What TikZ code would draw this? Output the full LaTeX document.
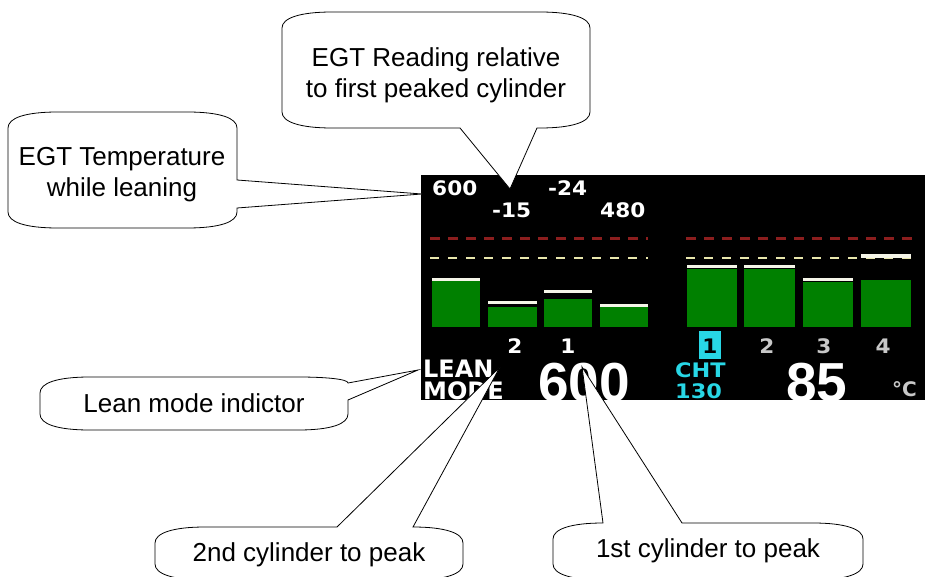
\documentclass[tikz,border=0pt]{standalone}
\usepackage{fontspec}
\setmainfont{Liberation Sans}
\newfontfamily\lcdfont{DejaVu Sans}
\newfontfamily\bigfont{Liberation Sans}
\definecolor{barg}{RGB}{0,128,0}
\definecolor{redd}{RGB}{140,30,30}
\definecolor{yeld}{RGB}{232,230,172}
\definecolor{cyanlcd}{RGB}{40,215,230}
\definecolor{graylcd}{RGB}{200,200,200}
\definecolor{capw}{RGB}{245,245,232}
\newcommand\lcdbar[4]{%
  \fill[barg] (#1,#4) rectangle (#2,327);
  \fill[capw] (#1,#3) rectangle (#2,#3+3);}
\begin{document}
\begin{tikzpicture}[x=1pt,y=-1pt,
  callout/.style={fill=white,draw=black,line width=0.8pt,line join=miter},
  ctext/.style={font=\fontsize{26}{31}\selectfont,align=center,inner sep=0pt},
  lcdsmall/.style={font=\lcdfont\bfseries\fontsize{20}{20}\selectfont,text=white,inner sep=0pt,xscale=1.08},
  lcdnum/.style={lcdsmall,text=graylcd},
  lcdbig/.style={font=\bigfont\bfseries\fontsize{55}{55}\selectfont,text=white,inner sep=0pt},
  lcdcyan/.style={font=\lcdfont\bfseries\fontsize{20}{20}\selectfont,text=cyanlcd,inner sep=0pt,xscale=1.12},
  lcdlean/.style={font=\lcdfont\bfseries\fontsize{24}{24}\selectfont,text=white,inner sep=0pt},
  reddash/.style={redd,line width=3pt,dash pattern=on 10pt off 8pt},
  yeldash/.style={yeld,line width=2.5pt,dash pattern=on 9pt off 9pt}]
\useasboundingbox (0,0) rectangle (925,577);
\fill[white] (0,0) rectangle (925,577);

% ---------- display ----------
\fill[black] (421,175) rectangle (925,400);
\begin{scope}
\clip (421,175) rectangle (925,400);
\draw[reddash] (430,238) -- (648,238);
\draw[reddash] (686,238) -- (914,238);
\draw[yeldash] (430,258) -- (648,258);
\draw[yeldash] (686,258) -- (914,258);
\lcdbar{432}{480}{278}{281}
\lcdbar{488}{537}{301}{307}
\lcdbar{544}{592}{290}{299}
\lcdbar{600}{648}{304}{307}
\lcdbar{687}{737}{265}{269}
\lcdbar{744}{795}{265}{269}
\lcdbar{803}{853}{278}{282}
\lcdbar{861}{911}{254}{280}
\fill[capw] (861,254) rectangle (911,258);

\node[lcdsmall,anchor=west] (v600) at (432,188) {600};
\node[lcdsmall,anchor=west] (v24) at (548,188) {-24};
\node[lcdsmall,anchor=west] (v15) at (492,210) {-15};
\node[lcdsmall,anchor=west] (v480) at (600,210) {480};

\node[lcdsmall] (n2) at (515,346) {2};
\node[lcdsmall] (n1) at (568,346) {1};
\fill[cyanlcd] (699,331) rectangle (721,359);
\node[lcdsmall,text=black] (r1) at (710,346) {1};
\node[lcdnum] (r2) at (767,346) {2};
\node[lcdnum] (r3) at (824,346) {3};
\node[lcdnum] (r4) at (883,346) {4};

\node[lcdlean,anchor=west] (lean) at (423,369) {LEAN};
\node[lcdlean,anchor=west] (mode) at (423,391) {MODE};
\node[lcdbig,anchor=base west] (big600) at (538,401) {600};
\node[lcdcyan,anchor=west] (cht) at (675,370) {CHT};
\node[lcdcyan,anchor=west] (c130) at (675,391) {130};
\node[lcdbig,anchor=base west] (big85) at (786,401) {85};
\node[font=\lcdfont\bfseries\fontsize{20}{20}\selectfont,text=graylcd,anchor=base west,inner sep=0pt] (degc) at (892,396) {°C};
\end{scope}

% ---------- callout tips ----------
\coordinate (tipTemp) at (422,194);
\coordinate (tipRead) at (510,189);
\coordinate (tipLean) at (418,370);
\coordinate (tipSecond) at (500,367);
\coordinate (tipFirst) at (582,367);

% EGT Temperature
\draw[callout] (8,128) .. controls (8,118) and (25,112) .. (58,112) -- (187,112)
  .. controls (220,112) and (237,118) .. (237,128) -- (237,180) -- (tipTemp) -- (237,208)
  -- (237,212) .. controls (237,222) and (220,228) .. (187,228) -- (58,228)
  .. controls (25,228) and (8,222) .. (8,212) -- cycle;
\node[ctext] (tTemp) at (122,175) {EGT Temperature\\while leaning};

% EGT Reading
\draw[callout] (282,28) .. controls (282,18) and (300,12) .. (332,12) -- (540,12)
  .. controls (572,12) and (590,18) .. (590,28) -- (590,112)
  .. controls (590,122) and (572,128) .. (540,128) -- (537,128) -- (tipRead) -- (460,128)
  -- (332,128) .. controls (300,128) and (282,122) .. (282,112) -- cycle;
\node[ctext] (tRead) at (436,75) {EGT Reading relative\\to first peaked cylinder};

% Lean mode
\draw[callout] (40,393) .. controls (40,383) and (57,377) .. (90,377) -- (298,377)
  .. controls (325,377) and (348,379) .. (348,383) -- (tipLean) -- (348,400) -- (348,414)
  .. controls (348,424) and (331,430) .. (298,430) -- (90,430)
  .. controls (57,430) and (40,424) .. (40,414) -- cycle;
\node[ctext] (tLean) at (194,403) {Lean mode indictor};

% 2nd cylinder
\draw[callout] (155,543) .. controls (155,533) and (173,527) .. (205,527) -- (337,527)
  -- (tipSecond) -- (413,527) .. controls (445,527) and (463,533) .. (463,543) -- (463,564)
  .. controls (463,574) and (445,580) .. (413,580) -- (205,580)
  .. controls (173,580) and (155,574) .. (155,564) -- cycle;
\node[ctext] (tSecond) at (309,555) {2nd cylinder to peak};

% 1st cylinder
\draw[callout] (553,539) .. controls (553,529) and (571,523) .. (603,523) -- (tipFirst)
  -- (682,523) -- (813,523) .. controls (845,523) and (863,529) .. (863,539) -- (863,564)
  .. controls (863,574) and (845,580) .. (813,580) -- (603,580)
  .. controls (571,580) and (553,574) .. (553,564) -- cycle;
\node[ctext] (tFirst) at (708,551) {1st cylinder to peak};
\end{tikzpicture}
\end{document}
